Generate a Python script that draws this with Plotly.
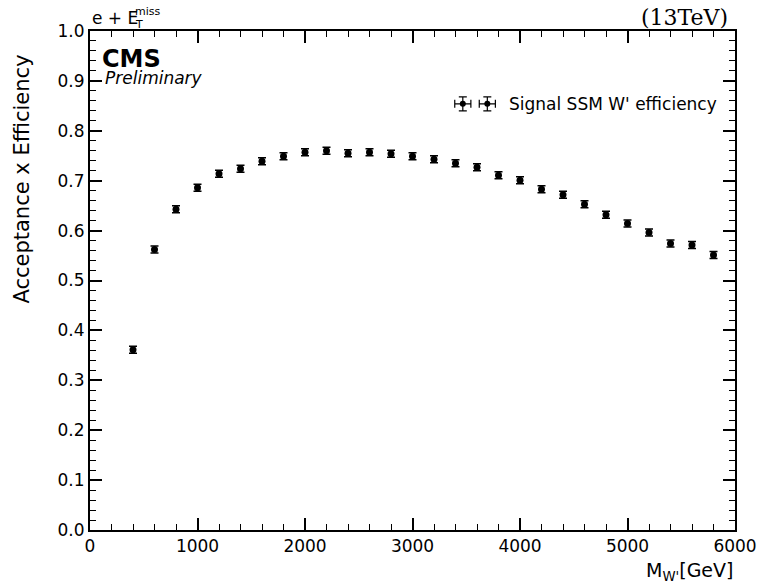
import plotly.graph_objects as go

# W' mass points (GeV) and measured acceptance x efficiency
mass = [400, 600, 800, 1000, 1200, 1400, 1600, 1800, 2000, 2200, 2400, 2600, 2800, 3000,
        3200, 3400, 3600, 3800, 4000, 4200, 4400, 4600, 4800, 5000, 5200, 5400, 5600, 5800]
eff = [0.361, 0.562, 0.643, 0.686, 0.714, 0.724, 0.739, 0.749, 0.757, 0.760, 0.755, 0.757,
       0.754, 0.749, 0.743, 0.735, 0.727, 0.711, 0.701, 0.683, 0.672, 0.653, 0.632, 0.614,
       0.596, 0.574, 0.571, 0.551]
eff_err = [0.007] * len(mass)

x_ticks = [0, 1000, 2000, 3000, 4000, 5000, 6000]
y_ticks = [0.0, 0.1, 0.2, 0.3, 0.4, 0.5, 0.6, 0.7, 0.8, 0.9, 1.0]

FONT = "DejaVu Sans"

fig = go.Figure()

fig.add_trace(go.Scatter(
    x=mass, y=eff, mode="markers",
    marker=dict(color="black", size=7, symbol="circle"),
    error_y=dict(type="data", array=eff_err, color="black", thickness=1.5, width=4),
    showlegend=False,
))

# legend glyphs drawn on an overlay axis spanning the plot area
fig.add_trace(go.Scatter(
    x=[0.578, 0.616], y=[0.854, 0.854], mode="markers",
    marker=dict(color="black", size=6),
    error_x=dict(type="constant", value=0.0125, color="black", thickness=1.2, width=4),
    error_y=dict(type="constant", value=0.014, color="black", thickness=1.2, width=4),
    xaxis="x2", yaxis="y2", showlegend=False, hoverinfo="skip",
))

axis_common = dict(
    showline=True, linecolor="black", linewidth=2, mirror="allticks",
    ticks="inside", ticklen=12, tickwidth=1.5, tickcolor="black",
    showgrid=False, zeroline=False, automargin=False,
    tickfont=dict(family=FONT, size=17, color="black"),
)

fig.update_layout(
    width=757, height=587,
    margin=dict(l=90, r=22, t=31, b=57, autoexpand=False),
    plot_bgcolor="white", paper_bgcolor="white",
    xaxis=dict(range=[0, 6000], tickvals=x_ticks, ticktext=[str(v) for v in x_ticks],
               minor=dict(ticks="inside", ticklen=6, tickwidth=1.2, tickcolor="black", dtick=200),
               **axis_common),
    yaxis=dict(range=[0, 1.0], tickvals=y_ticks, ticktext=[f"{v:.1f}" for v in y_ticks],
               minor=dict(ticks="inside", ticklen=6, tickwidth=1.2, tickcolor="black", dtick=0.02),
               **axis_common),
    xaxis2=dict(range=[0, 1], overlaying="x", visible=False, fixedrange=True),
    yaxis2=dict(range=[0, 1], overlaying="y", visible=False, fixedrange=True),
    showlegend=False,
)

ann = [
    dict(text="<b>CMS</b>", x=0.0155, y=0.944, font=dict(family=FONT, size=24, color="black"),
         xanchor="left", yanchor="middle"),
    dict(text="<i>Preliminary</i>", x=0.020, y=0.905, font=dict(family=FONT, size=17, color="black"),
         xanchor="left", yanchor="middle"),
    dict(text="Signal SSM W' efficiency", x=0.647, y=0.854,
         font=dict(family=FONT, size=17, color="black"), xanchor="left", yanchor="middle"),
    dict(text="e + E", x=0.0, y=1.026, font=dict(family=FONT, size=17, color="black"),
         xanchor="left", yanchor="middle"),
    dict(text="miss", x=0.066, y=1.040, font=dict(family=FONT, size=11, color="black"),
         xanchor="left", yanchor="middle"),
    dict(text="T", x=0.066, y=1.014, font=dict(family=FONT, size=11, color="black"),
         xanchor="left", yanchor="middle"),
    dict(text="(13TeV)", x=0.993, y=1.028, font=dict(family="DejaVu Serif", size=22, color="black"),
         xanchor="right", yanchor="middle"),
    dict(text="M<sub>W'</sub>[GeV]", x=1.0, y=-0.084, font=dict(family=FONT, size=19, color="black"),
         xanchor="right", yanchor="middle"),
    dict(text="Acceptance x Efficiency", x=-0.106, y=0.957, textangle=-90,
         font=dict(family=FONT, size=21, color="black"), xanchor="center", yanchor="top"),
]
for a in ann:
    a.update(xref="paper", yref="paper", showarrow=False)
fig.update_layout(annotations=ann)

fig.write_html("out.html")
